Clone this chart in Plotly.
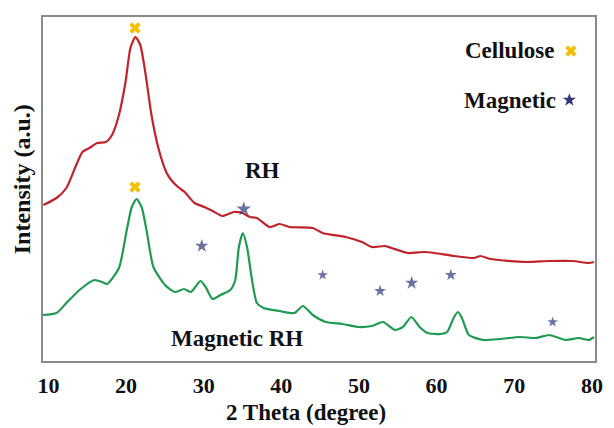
import plotly.graph_objects as go

# RH (red) curve: 2theta (deg), intensity (a.u.)
rh_x = [9.34, 11.04, 12.31, 13.58, 14.38, 15.27, 16.28, 17.39, 18.19, 19.08, 19.93, 20.56, 21.20,
        21.83, 22.47, 23.27, 24.16, 25.17, 25.81, 26.69, 27.55, 28.81, 30.08, 31.14, 32.41, 33.89,
        34.95, 35.96, 36.85, 38.50, 39.77, 41.04, 44.05, 45.32, 48.28, 50.40, 51.67, 53.36, 54.21,
        56.28, 58.44, 59.71, 62.25, 64.79, 65.64, 66.91, 71.51, 74.52, 77.48, 79.60, 80.27]
rh_y = [156, 163, 173, 196, 209, 213, 218, 219, 226, 246, 279, 313, 324,
        316, 289, 246, 213, 189, 181, 174, 169, 158, 154, 150, 145, 149,
        148, 144, 143, 134, 137, 134, 133, 128, 124, 119, 114, 115, 113,
        108, 109, 108, 105, 103, 105, 102, 99, 100, 100, 98, 99]

# Magnetic RH (green) curve
mrh_x = [9.3, 11.04, 12.31, 14.0, 15.9, 16.92, 17.55, 19.08, 20.09, 20.73, 21.36, 22.0, 22.63,
         23.52, 25.01, 26.28, 27.46, 28.35, 29.58, 30.25, 31.14, 32.15, 33.42, 34.06, 34.53,
         35.04, 35.58, 36.22, 36.85, 37.70, 39.77, 41.68, 42.78, 44.05, 45.74, 47.86, 49.93,
         51.67, 53.10, 54.63, 55.64, 56.75, 57.80, 58.82, 60.56, 61.36, 62.25, 62.75, 63.26,
         64.15, 66.05, 68.17, 70.71, 72.78, 74.52, 76.59, 78.33, 79.60, 80.27]
mrh_y = [46, 48, 58, 71, 81, 79, 77, 93, 131, 154, 162, 154, 131,
         94, 76, 69, 72, 69, 80, 74, 62, 66, 71, 81, 114,
         128, 114, 81, 58, 53, 50, 48, 55, 46, 39, 37, 34,
         35, 39, 31, 34, 44, 34, 28, 27, 29, 44, 49, 43,
         26, 21, 22, 24, 23, 26, 21, 23, 21, 24]

# Peak markers
cell_x = [21.15, 21.15]
cell_y = [333, 174]
mag_x = [35.16, 29.75, 45.32, 52.72, 56.79, 61.83, 74.94]
mag_y = [152, 115, 86, 70, 78, 86, 39]
mag_size = [11, 10, 8, 9, 10, 9, 8]

x_ticks = [10, 20, 30, 40, 50, 60, 70, 80]

RED = "#c1232b"
GREEN = "#1f9a52"
GOLD = "#f5c000"
NAVY = "#2f3679"
FONT = "Liberation Serif"
TXT = "#111111"

fig = go.Figure()
fig.add_trace(go.Scatter(x=rh_x, y=rh_y, mode="lines", line=dict(color=RED, width=2.2, shape="spline", smoothing=0.6)))
fig.add_trace(go.Scatter(x=mrh_x, y=mrh_y, mode="lines", line=dict(color=GREEN, width=2.2, shape="spline", smoothing=0.6)))
fig.add_trace(go.Scatter(x=cell_x, y=cell_y, mode="markers",
                         marker=dict(symbol="x", size=10, color=GOLD, line=dict(width=0))))
fig.add_trace(go.Scatter(x=mag_x, y=mag_y, mode="markers",
                         marker=dict(symbol="star", size=mag_size, color=NAVY, line=dict(width=0))))
# legend-like markers
fig.add_trace(go.Scatter(x=[77.3], y=[310], mode="markers",
                         marker=dict(symbol="x", size=10, color=GOLD, line=dict(width=0))))
fig.add_trace(go.Scatter(x=[77.1], y=[261], mode="markers",
                         marker=dict(symbol="star", size=10, color=NAVY, line=dict(width=0))))

def ann(text, x, y, xanchor="center", size=23, **kw):
    fig.add_annotation(text=text, x=x, y=y, xref="x", yref="y", showarrow=False,
                       xanchor=xanchor, yanchor="middle",
                       font=dict(family=FONT, size=size, color=TXT, weight="bold"), **kw)

ann("Cellulose", 75.4, 311, xanchor="right")
ann("Magnetic", 75.6, 261, xanchor="right")
ann("RH", 37.6, 191)
ann("Magnetic RH", 34.3, 23)

# axis titles (paper coords relative to plot area: left 43px, width 560px, bottom 361px, height 344px)
fig.add_annotation(text="2 Theta (degree)", x=(310 - 43) / 560, y=-(412 - 361) / 344,
                   xref="paper", yref="paper", showarrow=False, xanchor="center", yanchor="middle",
                   font=dict(family=FONT, size=23, color=TXT, weight="bold"))
fig.add_annotation(text="Intensity (a.u.)", x=(22.5 - 43) / 560, y=(361 - 179.5) / 344,
                   xref="paper", yref="paper", showarrow=False, textangle=-90,
                   xanchor="center", yanchor="middle",
                   font=dict(family=FONT, size=24, color=TXT, weight="bold"))

fig.update_layout(
    width=614, height=428,
    margin=dict(l=43, r=11, t=17, b=67),
    paper_bgcolor="white", plot_bgcolor="white",
    showlegend=False,
)

fig.update_xaxes(range=[9.3, 80.4], tickvals=x_ticks, ticktext=[str(t) for t in x_ticks],
                 showgrid=False, zeroline=False, showline=True, mirror=True, linecolor="#8a8a8a",
                 linewidth=1.5, ticks="", ticklabelstandoff=4,
                 tickfont=dict(family=FONT, size=22, color=TXT, weight="bold"))
fig.update_yaxes(range=[0, 344], showticklabels=False, showgrid=False, zeroline=False,
                 showline=True, mirror=True, linecolor="#8a8a8a", linewidth=1.5, ticks="")

fig.write_html("out.html")
